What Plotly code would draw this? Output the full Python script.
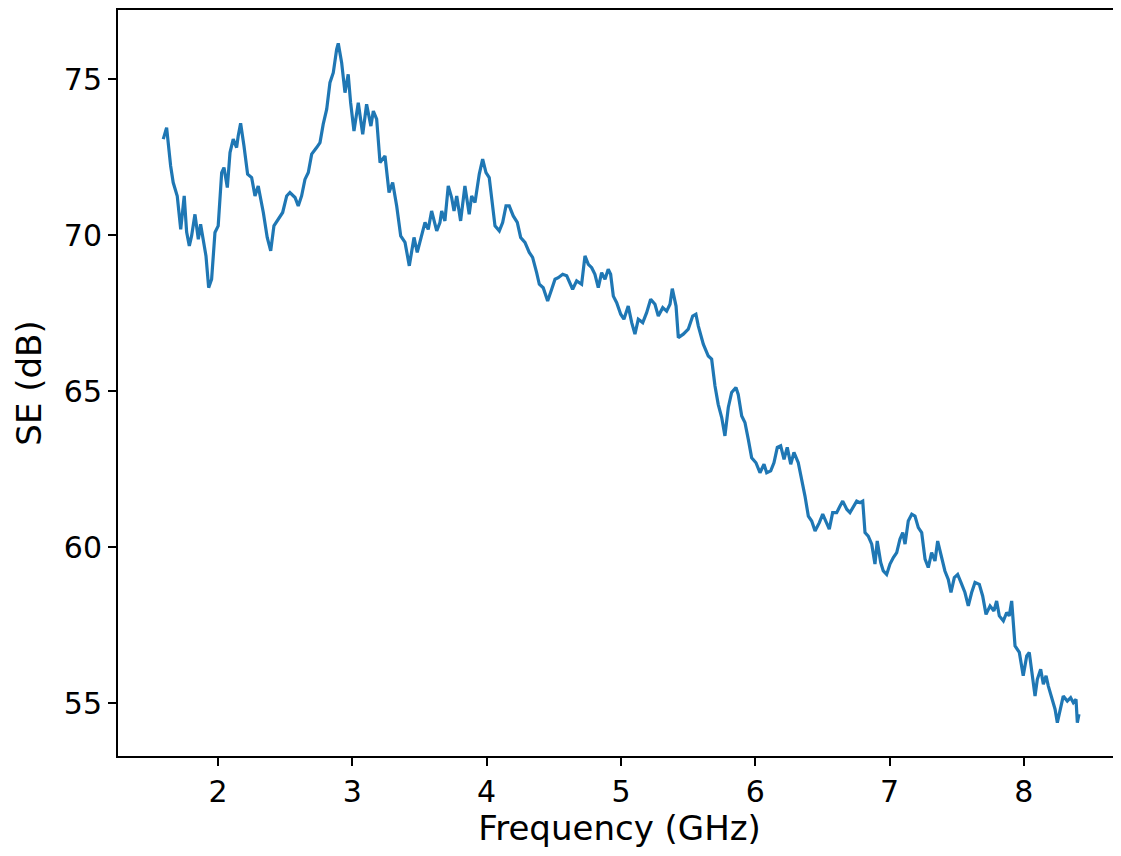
import plotly.graph_objects as go

# Frequency (GHz) and shielding effectiveness SE (dB)
freq_ghz = [
    1.592, 1.617, 1.647, 1.666, 1.696, 1.722, 1.748, 1.766, 1.786, 1.803,
    1.828, 1.853, 1.870, 1.890, 1.910, 1.930, 1.952, 1.977, 2.001, 2.027,
    2.044, 2.069, 2.089, 2.113, 2.138, 2.150, 2.168, 2.193, 2.220, 2.250,
    2.275, 2.299, 2.337, 2.366, 2.392, 2.416, 2.448, 2.481, 2.511, 2.535,
    2.573, 2.597, 2.622, 2.647, 2.672, 2.697, 2.734, 2.759, 2.783, 2.809,
    2.833, 2.858, 2.883, 2.895, 2.920, 2.945, 2.969, 2.987, 3.012, 3.044,
    3.077, 3.106, 3.138, 3.156, 3.181, 3.206, 3.243, 3.273, 3.300, 3.330,
    3.360, 3.392, 3.424, 3.459, 3.483, 3.516, 3.541, 3.565, 3.590, 3.628,
    3.652, 3.665, 3.689, 3.714, 3.739, 3.757, 3.777, 3.806, 3.838, 3.870,
    3.888, 3.913, 3.945, 3.970, 3.995, 4.019, 4.037, 4.062, 4.094, 4.119,
    4.144, 4.168, 4.198, 4.228, 4.253, 4.285, 4.317, 4.342, 4.372, 4.392,
    4.421, 4.454, 4.484, 4.509, 4.533, 4.566, 4.596, 4.620, 4.640, 4.670,
    4.707, 4.732, 4.757, 4.782, 4.806, 4.831, 4.856, 4.881, 4.905, 4.923,
    4.943, 4.968, 4.998, 5.022, 5.054, 5.080, 5.104, 5.129, 5.162, 5.191,
    5.221, 5.253, 5.278, 5.311, 5.340, 5.365, 5.382, 5.410, 5.427, 5.464,
    5.501, 5.534, 5.558, 5.576, 5.613, 5.650, 5.675, 5.700, 5.724, 5.750,
    5.774, 5.799, 5.824, 5.856, 5.873, 5.899, 5.923, 5.948, 5.973, 6.005,
    6.035, 6.065, 6.085, 6.115, 6.139, 6.164, 6.189, 6.214, 6.238, 6.264,
    6.288, 6.320, 6.346, 6.370, 6.395, 6.420, 6.445, 6.477, 6.502, 6.526,
    6.551, 6.576, 6.606, 6.631, 6.651, 6.681, 6.705, 6.755, 6.780, 6.800,
    6.817, 6.841, 6.867, 6.891, 6.908, 6.934, 6.953, 6.978, 7.003, 7.028,
    7.053, 7.077, 7.098, 7.115, 7.139, 7.165, 7.189, 7.214, 7.239, 7.264,
    7.288, 7.313, 7.338, 7.358, 7.383, 7.412, 7.437, 7.457, 7.482, 7.507,
    7.532, 7.561, 7.586, 7.611, 7.636, 7.668, 7.693, 7.718, 7.748, 7.777,
    7.797, 7.817, 7.847, 7.872, 7.891, 7.909, 7.934, 7.966, 7.995, 8.021,
    8.040, 8.066, 8.083, 8.100, 8.125, 8.145, 8.165, 8.182, 8.207, 8.232,
    8.249, 8.269, 8.293, 8.323, 8.348, 8.368, 8.388, 8.398, 8.410,
]
se_db = [
    73.08, 73.45, 72.22, 71.69, 71.26, 70.19, 71.26, 70.10, 69.66, 69.98,
    70.67, 69.87, 70.35, 69.87, 69.34, 68.32, 68.59, 70.09, 70.30, 72.01,
    72.17, 71.53, 72.65, 73.08, 72.81, 73.18, 73.59, 72.86, 71.96, 71.85,
    71.26, 71.58, 70.73, 69.93, 69.50, 70.30, 70.51, 70.73, 71.26, 71.37,
    71.21, 70.94, 71.26, 71.79, 72.01, 72.60, 72.81, 72.97, 73.56, 74.04,
    74.89, 75.21, 75.96, 76.15, 75.54, 74.57, 75.16, 74.25, 73.34, 74.25,
    73.24, 74.20, 73.50, 73.98, 73.72, 72.33, 72.54, 71.37, 71.69, 70.94,
    69.98, 69.77, 69.02, 69.93, 69.45, 69.98, 70.41, 70.19, 70.78, 70.14,
    70.41, 70.78, 70.46, 71.58, 71.21, 70.78, 71.26, 70.46, 71.58, 70.67,
    71.26, 71.05, 71.96, 72.44, 72.01, 71.85, 71.15, 70.30, 70.14, 70.41,
    70.94, 70.94, 70.62, 70.41, 69.93, 69.77, 69.45, 69.29, 68.80, 68.43,
    68.32, 67.89, 68.27, 68.59, 68.64, 68.75, 68.70, 68.48, 68.27, 68.54,
    68.43, 69.34, 69.07, 68.96, 68.75, 68.32, 68.80, 68.59, 68.91, 68.75,
    68.05, 67.84, 67.47, 67.31, 67.73, 67.20, 66.83, 67.31, 67.20, 67.52,
    67.95, 67.79, 67.41, 67.68, 67.57, 67.79, 68.29, 67.73, 66.72, 66.83,
    66.99, 67.41, 67.47, 67.09, 66.51, 66.13, 66.03, 65.17, 64.58, 64.16,
    63.57, 64.48, 64.96, 65.12, 64.90, 64.21, 64.00, 63.46, 62.87, 62.71,
    62.39, 62.66, 62.39, 62.45, 62.71, 63.20, 63.25, 62.82, 63.20, 62.66,
    63.04, 62.71, 62.18, 61.64, 61.00, 60.84, 60.52, 60.79, 61.06, 60.84,
    60.58, 61.11, 61.11, 61.32, 61.48, 61.22, 61.11, 61.48, 61.43, 61.48,
    60.47, 60.36, 60.10, 59.46, 60.20, 59.51, 59.24, 59.13, 59.46, 59.67,
    59.83, 60.26, 60.47, 60.10, 60.84, 61.06, 61.00, 60.63, 60.47, 59.62,
    59.35, 59.83, 59.56, 60.20, 59.78, 59.24, 58.97, 58.55, 59.03, 59.13,
    58.87, 58.55, 58.12, 58.55, 58.87, 58.81, 58.44, 57.85, 58.12, 57.96,
    58.28, 57.80, 57.64, 57.91, 57.80, 58.28, 56.84, 56.63, 55.88, 56.52,
    56.63, 55.88, 55.23, 55.77, 56.09, 55.61, 55.88, 55.55, 55.13, 54.81,
    54.38, 54.75, 55.23, 55.07, 55.18, 55.02, 55.13, 54.38, 54.65,
]

x_ticks = [2, 3, 4, 5, 6, 7, 8]
y_ticks = [55, 60, 65, 70, 75]

FONT = "DejaVu Sans"
TICK_SIZE = 30
TITLE_SIZE = 34

fig = go.Figure()
fig.add_trace(go.Scatter(
    x=freq_ghz, y=se_db, mode="lines",
    line=dict(color="#1f77b4", width=3.2),
    showlegend=False, hoverinfo="skip",
))

fig.update_layout(
    width=1113, height=840,
    margin=dict(l=110, r=0, t=2, b=90),
    paper_bgcolor="white", plot_bgcolor="white",
    font=dict(family=FONT, size=TICK_SIZE, color="black"),
)
fig.update_xaxes(
    range=[1.255, 8.723],
    tickmode="array", tickvals=x_ticks, ticktext=[str(v) for v in x_ticks],
    ticks="outside", ticklen=8, tickwidth=2, tickcolor="black",
    showline=True, linecolor="black", linewidth=2, mirror=True,
    showgrid=False, zeroline=False,
    tickfont=dict(family=FONT, size=TICK_SIZE, color="black"),
    title=dict(text="Frequency (GHz)", font=dict(family=FONT, size=TITLE_SIZE, color="black"), standoff=15),
)
fig.update_yaxes(
    range=[53.31, 77.22],
    tickmode="array", tickvals=y_ticks, ticktext=[str(v) for v in y_ticks],
    ticks="outside", ticklen=8, tickwidth=2, tickcolor="black",
    showline=True, linecolor="black", linewidth=2, mirror=False,
    showgrid=False, zeroline=False,
    tickfont=dict(family=FONT, size=TICK_SIZE, color="black"),
    title=dict(text="SE (dB)", font=dict(family=FONT, size=TITLE_SIZE, color="black"), standoff=12),
)

fig.write_html("out.html")
